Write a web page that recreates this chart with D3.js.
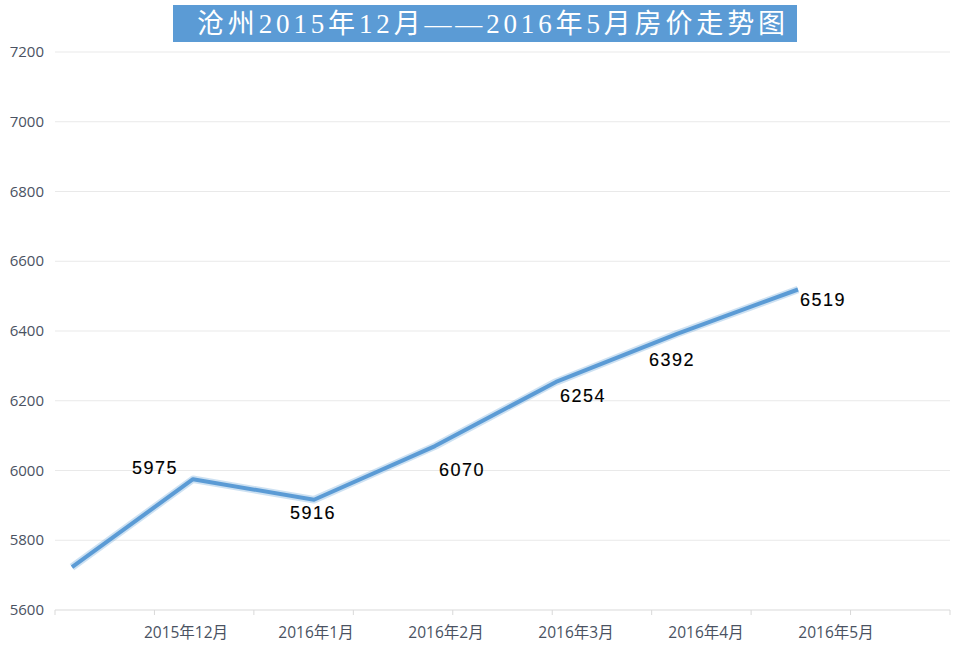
<!DOCTYPE html>
<html><head><meta charset="utf-8">
<script src="https://cdn.jsdelivr.net/npm/d3@7/dist/d3.min.js"></script>
<style>body{margin:0;background:#fff}svg{display:block}</style>
</head><body>
<svg id="c" width="960" height="651"></svg>
<script>
const title = "沧州2015年12月——2016年5月房价走势图";
const categories = ["2015年12月","2016年1月","2016年2月","2016年3月","2016年4月","2016年5月"];
const startValue = [5723];
const values = [5975, 5916, 6070, 6254, 6392, 6519];
const yTicks = [5600, 5800, 6000, 6200, 6400, 6600, 6800, 7000, 7200];

const series = startValue.concat(values);
const svg = d3.select("#c");

const y = d3.scaleLinear().domain([5600, 7200]).range([610, 52]);
const xPt = d3.scaleLinear().domain([0, series.length - 1]).range([72, 798]);
const xLab = d3.scalePoint().domain(categories).range([186, 836]);
const xTick = d3.scaleLinear().domain([0, 9]).range([55, 950]);

// gridlines
svg.append("g").selectAll("line").data(yTicks.slice(1)).join("line")
  .attr("x1", 55).attr("x2", 950)
  .attr("y1", d => y(d)).attr("y2", d => y(d))
  .attr("stroke", "#e9e9e9").attr("stroke-width", 1);

// baseline axis
svg.append("line").attr("x1", 55).attr("x2", 950).attr("y1", y(5600)).attr("y2", y(5600))
  .attr("stroke", "#d9d9d9").attr("stroke-width", 1);
svg.append("g").selectAll("line").data(d3.range(0, 10)).join("line")
  .attr("x1", d => xTick(d)).attr("x2", d => xTick(d))
  .attr("y1", y(5600)).attr("y2", y(5600) + 5)
  .attr("stroke", "#d9d9d9");

// y labels
svg.append("g").selectAll("text").data(yTicks).join("text")
  .attr("x", 44).attr("y", d => y(d) + 5)
  .attr("text-anchor", "end")
  .attr("font-family", "'Open Sans','Noto Sans',sans-serif")
  .attr("font-size", 15).attr("fill", "#4a5262")
  .text(d => d);

// x labels
svg.append("g").selectAll("text").data(categories).join("text")
  .attr("x", d => xLab(d)).attr("y", 638)
  .attr("text-anchor", "middle")
  .attr("font-family", "'Open Sans','Noto Sans CJK SC',sans-serif")
  .attr("font-size", 15.5).attr("fill", "#4a5262")
  .text(d => d);

// line
const line = d3.line().x((d, i) => xPt(i)).y(d => y(d));
svg.append("path").datum(series).attr("d", line)
  .attr("fill", "none").attr("stroke", "#5b9bd5").attr("stroke-opacity", 0.3)
  .attr("stroke-width", 7.5).attr("stroke-linejoin", "round");
svg.append("path").datum(series).attr("d", line)
  .attr("fill", "none").attr("stroke", "#5b9bd5")
  .attr("stroke-width", 4).attr("stroke-linejoin", "round");

// data labels
const labelOffsets = [[-38, -5], [-1, 19], [27, 30], [27, 20], [-5, 32], [25, 17]];
svg.append("g").selectAll("text").data(values).join("text")
  .attr("x", (d, i) => xPt(i + 1) + labelOffsets[i][0])
  .attr("y", (d, i) => y(d) + labelOffsets[i][1])
  .attr("text-anchor", "middle")
  .attr("font-family", "'Liberation Sans',Arial,sans-serif")
  .attr("font-size", 18).attr("letter-spacing", 1.5).attr("fill", "#000")
  .attr("stroke", "#000").attr("stroke-width", 0.15)
  .text(d => d);

// title
svg.append("rect").attr("x", 173).attr("y", 5).attr("width", 624).attr("height", 37)
  .attr("fill", "#5b9bd5");
svg.append("text").attr("x", 197).attr("y", 33)
  .attr("font-family", "'Liberation Serif','Noto Sans CJK SC',serif")
  .attr("font-size", 27).attr("fill", "#fff")
  .attr("textLength", 588).attr("lengthAdjust", "spacing")
  .text(title);
</script>
</body></html>
